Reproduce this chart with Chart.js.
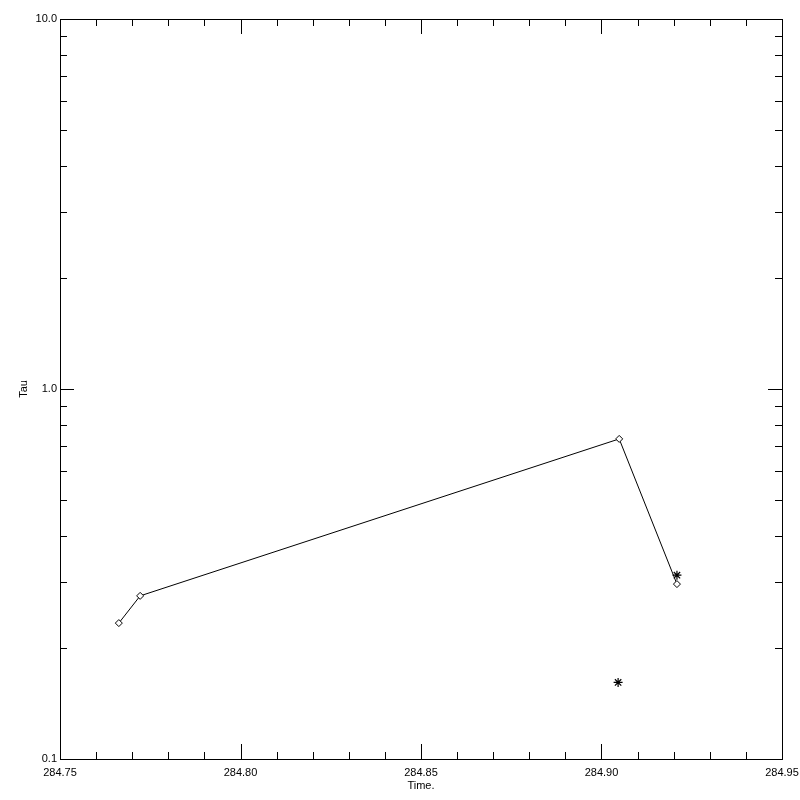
<!DOCTYPE html>
<html>
<head>
<meta charset="utf-8">
<script src="https://cdn.jsdelivr.net/npm/chart.js@4.4.0/dist/chart.umd.min.js"></script>
<style>
  html, body { margin: 0; padding: 0; background: #fff; }
</style>
</head>
<body>
<canvas id="chart" width="800" height="800"></canvas>
<script>
// data
const lineTimes = [284.7663, 284.7722, 284.9049, 284.9209];
const lineTau = [0.233, 0.276, 0.733, 0.297];
const starTimes = [284.9209, 284.9046];
const starTau = [0.314, 0.161];
const xTickLabels = ['284.75', '284.80', '284.85', '284.90', '284.95'];
const yTickLabels = ['0.1', '1.0', '10.0'];

const FONT = { family: 'Liberation Sans, Arial, sans-serif', size: 11 };

// draws the inward tick marks and the frame, like the old IDL plot
const frameTicks = {
    id: 'frameTicks',
    afterDraw(chart) {
        const { ctx, chartArea: a, scales: { x, y } } = chart;
        ctx.save();
        ctx.strokeStyle = '#000';
        ctx.lineWidth = 1;
        ctx.beginPath();
        x.ticks.forEach((t, i) => {
            const px = Math.round(x.getPixelForValue(t.value)) + 0.5;
            const len = i % 5 === 0 ? 15 : 7;
            ctx.moveTo(px, a.bottom); ctx.lineTo(px, a.bottom - len);
            ctx.moveTo(px, a.top); ctx.lineTo(px, a.top + len);
        });
        y.ticks.forEach(t => {
            const py = Math.round(y.getPixelForValue(t.value)) + 0.5;
            const major = Math.abs(Math.log10(t.value) - Math.round(Math.log10(t.value))) < 1e-6;
            const len = major ? 14 : 7;
            ctx.moveTo(a.left, py); ctx.lineTo(a.left + len, py);
            ctx.moveTo(a.right, py); ctx.lineTo(a.right - len, py);
        });
        ctx.stroke();
        ctx.strokeRect(a.left + 0.5, a.top + 0.5, a.right - a.left, a.bottom - a.top);
        ctx.restore();
    }
};

new Chart(document.getElementById('chart'), {
    type: 'line',
    data: {
        datasets: [{
            data: lineTimes.map((t, i) => ({ x: t, y: lineTau[i] })),
            borderColor: '#000',
            borderWidth: 1,
            pointStyle: 'rectRot',
            pointRadius: 3.5,
            pointBackgroundColor: '#fff',
            pointBorderColor: '#000',
            pointBorderWidth: 1,
            tension: 0
        }, {
            data: starTimes.map((t, i) => ({ x: t, y: starTau[i] })),
            showLine: false,
            pointStyle: 'star',
            pointRadius: 4.5,
            pointBorderColor: '#000',
            pointBorderWidth: 1.2
        }]
    },
    options: {
        responsive: false,
        animation: false,
        layout: { padding: { top: 19, right: 18, left: 0, bottom: 0 } },
        plugins: { legend: { display: false }, tooltip: { enabled: false } },
        scales: {
            x: {
                type: 'linear',
                min: 284.75,
                max: 284.95,
                afterBuildTicks: s => {
                    s.ticks = [];
                    for (let i = 0; i <= 20; i++) s.ticks.push({ value: 284.75 + i * 0.01 });
                },
                afterFit: s => { s.height = 41; s.paddingLeft = 0; s.paddingRight = 0; },
                grid: { display: false, drawTicks: false },
                border: { display: false },
                ticks: {
                    autoSkip: false,
                    maxRotation: 0,
                    padding: 7,
                    color: '#000',
                    font: FONT,
                    callback: (v, i) => (i % 5 === 0 ? xTickLabels[i / 5] : '')
                },
                title: { display: true, text: 'Time.', color: '#000', font: FONT, padding: { top: 7, bottom: 7 } }
            },
            y: {
                type: 'logarithmic',
                min: 0.1,
                max: 10,
                afterBuildTicks: s => {
                    s.ticks = [];
                    [0.1, 1].forEach(d => {
                        for (let k = 1; k <= 9; k++) s.ticks.push({ value: +(d * k).toFixed(2) });
                    });
                    s.ticks.push({ value: 10 });
                },
                afterFit: s => { s.width = 60; s.paddingTop = 0; s.paddingBottom = 0; },
                grid: { display: false, drawTicks: false },
                border: { display: false },
                ticks: {
                    autoSkip: false,
                    padding: 3,
                    color: '#000',
                    font: FONT,
                    callback: v => {
                        const e = Math.log10(v);
                        if (Math.abs(e - Math.round(e)) > 1e-6) return '';
                        return yTickLabels[Math.round(e) + 1];
                    }
                },
                title: { display: true, text: 'Tau', color: '#000', font: FONT, padding: { top: 17, bottom: 17 } }
            }
        }
    },
    plugins: [frameTicks]
});
</script>
</body>
</html>
